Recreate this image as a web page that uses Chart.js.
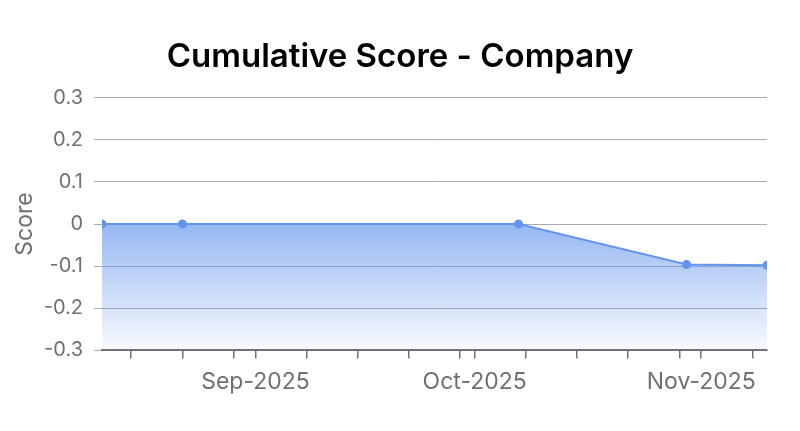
<!DOCTYPE html>
<html>
<head>
<meta charset="utf-8">
<script src="https://cdn.jsdelivr.net/npm/chart.js@4"></script>
<style>
  html, body { margin: 0; padding: 0; background: #fff; }
  #wrap { width: 800px; height: 431px; position: relative; }
</style>
</head>
<body>
<div id="wrap"><canvas id="scoreChart"></canvas></div>
<script>
const dates = ['2025-08-11', '2025-08-22', '2025-10-07', '2025-10-30', '2025-11-10'];
const scores = [0, 0, 0, -0.096, -0.098];
const tickDates = ['2025-08-15', '2025-08-22', '2025-08-29', '2025-09-01', '2025-09-08', '2025-09-15',
    '2025-09-22', '2025-09-29', '2025-10-01', '2025-10-08', '2025-10-15', '2025-10-22',
    '2025-10-29', '2025-11-01', '2025-11-08'];
const monthLabels = { '2025-09-01': 'Sep-2025', '2025-10-01': 'Oct-2025', '2025-11-01': 'Nov-2025' };

const FONT = 'Inter, "Noto Sans", sans-serif';
const lineColor = 'rgb(100, 149, 237)';

document.addEventListener('DOMContentLoaded', function() {
    const points = dates.map((d, i) => ({ x: Date.parse(d), y: scores[i] }));
    const labelByTime = {};
    Object.keys(monthLabels).forEach(k => { labelByTime[Date.parse(k)] = monthLabels[k]; });

    const ctx = document.getElementById('scoreChart').getContext('2d');
    new Chart(ctx, {
        type: 'line',
        data: {
            datasets: [{
                label: 'Score',
                data: points,
                borderColor: lineColor,
                borderWidth: 2,
                pointBackgroundColor: lineColor,
                pointBorderColor: lineColor,
                pointRadius: 3.5,
                tension: 0,
                fill: 'start',
                backgroundColor: function(context) {
                    const chart = context.chart;
                    const area = chart.chartArea;
                    if (!area) return 'rgba(100,149,237,0.4)';
                    const top = chart.scales.y.getPixelForValue(0);
                    const g = chart.ctx.createLinearGradient(0, top, 0, area.bottom);
                    g.addColorStop(0, 'rgba(100,149,237,0.68)');
                    g.addColorStop(1, 'rgba(100,149,237,0.04)');
                    return g;
                }
            }]
        },
        options: {
            responsive: true,
            maintainAspectRatio: false,
            animation: false,
            layout: { padding: { left: 0, right: 0, top: 27, bottom: 25 } },
            plugins: {
                legend: { display: false },
                tooltip: { enabled: false },
                title: {
                    display: true,
                    text: 'Cumulative Score - Company',
                    color: '#000',
                    font: { family: FONT, size: 33, weight: '600' },
                    padding: { top: 10, bottom: 21 }
                }
            },
            scales: {
                x: {
                    type: 'linear',
                    min: points[0].x,
                    max: points[points.length - 1].x,
                    afterBuildTicks: function(scale) {
                        scale.ticks = tickDates.map(d => ({ value: Date.parse(d) }));
                    },
                    afterFit: function(scale) {
                        scale.paddingRight = 33;
                    },
                    grid: { drawOnChartArea: false, drawTicks: true, tickLength: 8, color: '#707070', lineWidth: 1.5 },
                    border: { display: true, color: '#707070', width: 2 },
                    ticks: {
                        autoSkip: false,
                        maxRotation: 0,
                        color: '#707070',
                        font: { family: FONT, size: 23 },
                        padding: 10,
                        callback: function(value) { return labelByTime[value] || ''; }
                    }
                },
                y: {
                    min: -0.3,
                    max: 0.3,
                    afterFit: function(scale) {
                        scale.width = 102;
                    },
                    ticks: {
                        stepSize: 0.1,
                        color: '#707070',
                        font: { family: FONT, size: 20 },
                        padding: 11,
                        callback: function(value) { return Math.round(value * 10) / 10; }
                    },
                    grid: { color: '#aaaaaa', lineWidth: 1, tickLength: 8 },
                    border: { display: false },
                    title: {
                        display: true,
                        text: 'Score',
                        color: '#707070',
                        font: { family: FONT, size: 23 },
                        padding: { top: 11, bottom: 0 }
                    }
                }
            }
        }
    });
});
</script>
</body>
</html>
